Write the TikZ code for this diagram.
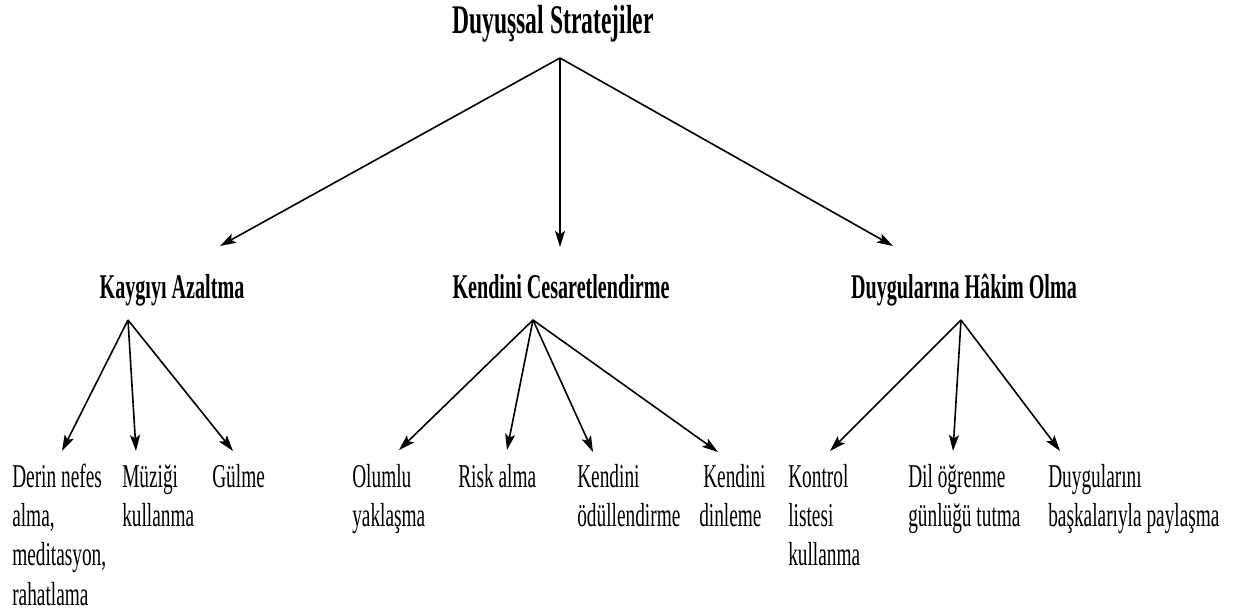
\documentclass[tikz,border=0pt]{standalone}
\usepackage{fontspec}
\setmainfont{Liberation Serif}[FakeStretch=0.58]
\usetikzlibrary{arrows.meta}
% multi-line text whose baseline is that of its first line
\newcommand{\linesof}[1]{\begin{tabular}[t]{@{}l@{}}#1\end{tabular}}
\tikzset{
  head/.style={font=\fontsize{26}{30}\selectfont\bfseries, inner sep=0pt, anchor=base},
  title/.style={head, font=\fontsize{30.5}{34}\selectfont\bfseries},
  leaf/.style={font=\fontsize{25}{29.6}\selectfont, inner sep=0pt, anchor=base west},
  link/.style={line width=1.2pt, -{Stealth[length=12pt,width=7.5pt,inset=2.5pt]}}
}
\begin{document}
\begin{tikzpicture}[x=0.75pt,y=-0.75pt]
\useasboundingbox (0,0) rectangle (1234,612);

% headings
\node[title] (root) at (553,33) {Duyuşsal Stratejiler};
\node[head] (kaygi) at (172,298) {Kaygıyı Azaltma};
\node[head] (cesaret) at (561,298) {Kendini Cesaretlendirme};
\node[head] (hakim) at (964,298) {Duygularına Hâkim Olma};

% leaves
\node[leaf] (derin) at (12,487) {\linesof{Derin nefes\\alma,\\meditasyon,\\rahatlama}};
\node[leaf] (muzik) at (122,487) {\linesof{Müziği\\kullanma}};
\node[leaf] (gulme) at (212,487) {Gülme};
\node[leaf] (olumlu) at (352,487) {\linesof{Olumlu\\yaklaşma}};
\node[leaf] (risk) at (458,487) {Risk alma};
\node[leaf] (odul) at (577,487) {\linesof{Kendini\\ödüllendirme}};
\node[leaf] (dinle) at (699,487) {\linesof{\hspace*{3pt}Kendini\\dinleme}};
\node[leaf] (kontrol) at (788,487) {\linesof{Kontrol\\listesi\\kullanma}};
\node[leaf] (gunluk) at (908,487) {\linesof{Dil öğrenme\\günlüğü tutma}};
\node[leaf] (paylas) at (1048,487) {\linesof{Duygularını\\başkalarıyla paylaşma}};

% fork points below the headings
\coordinate (rootfork) at (560,58);
\coordinate (kaygifork) at (128,320);
\coordinate (cesaretfork) at (533,320);
\coordinate (hakimfork) at (961,320);

% arrow tips above the children
\coordinate (kaygitip) at (220,246);
\coordinate (cesarettip) at (560,247);
\coordinate (hakimtip) at (893,246);
\coordinate (derintip) at (62,451);
\coordinate (muziktip) at (136,451);
\coordinate (gulmetip) at (233,451);
\coordinate (olumlutip) at (399,450);
\coordinate (risktip) at (507,450);
\coordinate (odultip) at (593,452);
\coordinate (dinletip) at (718,452);
\coordinate (kontroltip) at (830,451);
\coordinate (gunluktip) at (953,451);
\coordinate (paylastip) at (1060,451);

\draw[link] (rootfork) -- (kaygitip);
\draw[link] (rootfork) -- (cesarettip);
\draw[link] (rootfork) -- (hakimtip);

\draw[link] (kaygifork) -- (derintip);
\draw[link] (kaygifork) -- (muziktip);
\draw[link] (kaygifork) -- (gulmetip);

\draw[link] (cesaretfork) -- (olumlutip);
\draw[link] (cesaretfork) -- (risktip);
\draw[link] (cesaretfork) -- (odultip);
\draw[link] (cesaretfork) -- (dinletip);

\draw[link] (hakimfork) -- (kontroltip);
\draw[link] (hakimfork) -- (gunluktip);
\draw[link] (hakimfork) -- (paylastip);
\end{tikzpicture}
\end{document}
